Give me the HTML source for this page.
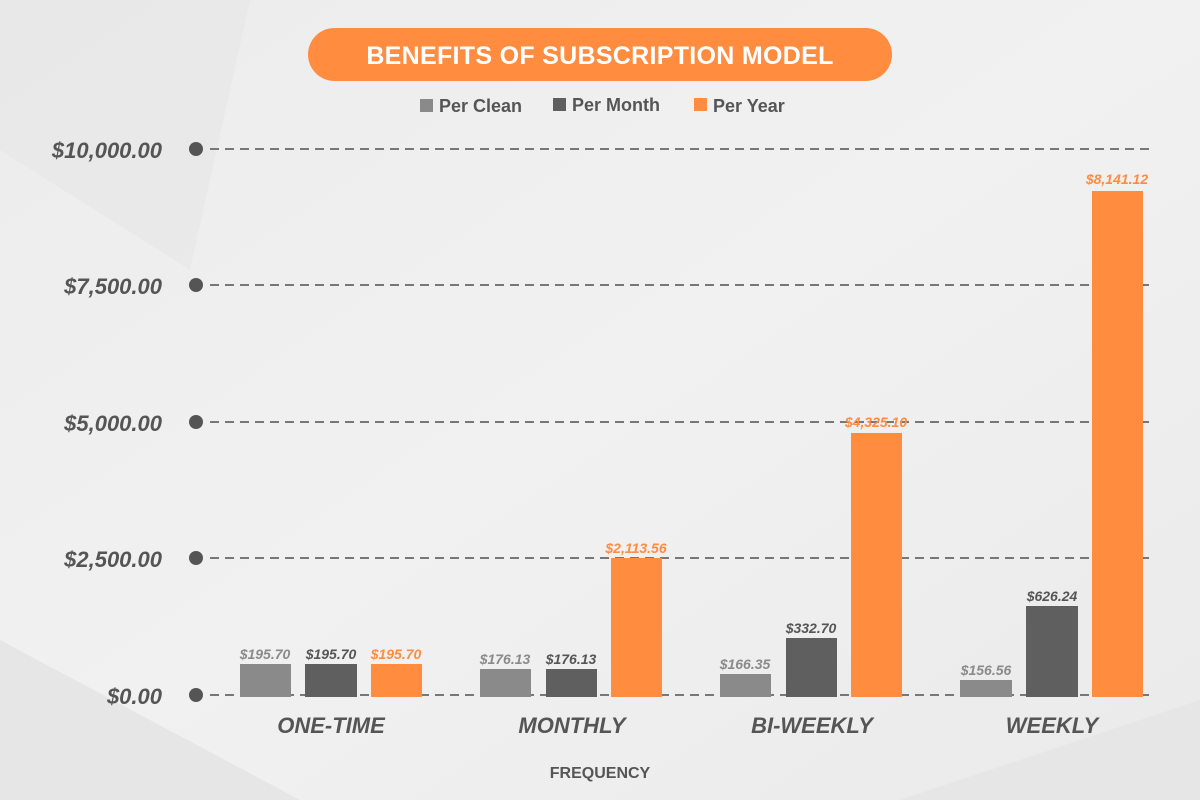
<!DOCTYPE html>
<html><head><style>
body{margin:0;}
svg{display:block;}
text{font-family:"Liberation Sans",sans-serif;font-weight:bold;}
</style></head><body>
<svg width="1200" height="800" xmlns="http://www.w3.org/2000/svg">
<defs><linearGradient id="bg" x1="0" y1="0" x2="1" y2="1">
<stop offset="0" stop-color="#ececec"/><stop offset="0.5" stop-color="#f1f1f1"/><stop offset="1" stop-color="#eaeaea"/></linearGradient></defs>
<rect width="1200" height="800" fill="url(#bg)"/>
<polygon points="0,0 250,0 190,270 0,150" fill="#e6e6e6" opacity="0.6"/>
<polygon points="0,640 300,800 0,800" fill="#e0e0e0" opacity="0.6"/>
<polygon points="900,800 1200,700 1200,800" fill="#e3e3e3" opacity="0.6"/>
<rect x="308" y="28" width="584" height="53" rx="26.5" fill="#ff8c3f"/>
<text x="600" y="64" text-anchor="middle" font-size="25" fill="#fff" letter-spacing="0.3">BENEFITS OF SUBSCRIPTION MODEL</text>
<rect x="420" y="99" width="13" height="13" fill="#8a8a8a"/>
<text x="439" y="112" font-size="18" fill="#555">Per Clean</text>
<rect x="553" y="98" width="13" height="13" fill="#5f5f5f"/>
<text x="572" y="111" font-size="18" fill="#555">Per Month</text>
<rect x="694" y="98" width="13" height="13" fill="#ff8c3f"/>
<text x="713" y="112" font-size="18" fill="#555">Per Year</text>
<g stroke="#777" stroke-width="2" stroke-dasharray="9,6">
<line x1="210" y1="149" x2="1150" y2="149"/>
<line x1="210" y1="285" x2="1150" y2="285"/>
<line x1="210" y1="422" x2="1150" y2="422"/>
<line x1="210" y1="558" x2="1150" y2="558"/>
<line x1="210" y1="695" x2="1150" y2="695"/>
</g>
<g fill="#555"><circle cx="196" cy="149" r="7"/><circle cx="196" cy="285" r="7"/><circle cx="196" cy="422" r="7"/><circle cx="196" cy="558" r="7"/><circle cx="196" cy="695" r="7"/></g>
<g font-size="22" font-style="italic" fill="#555" text-anchor="end">
<text x="162" y="158">$10,000.00</text>
<text x="162" y="294">$7,500.00</text>
<text x="162" y="431">$5,000.00</text>
<text x="162" y="567">$2,500.00</text>
<text x="162" y="704">$0.00</text>
</g>
<g>
<rect x="240" y="664" width="51" height="33" fill="#8a8a8a"/>
<rect x="305" y="664" width="52" height="33" fill="#5f5f5f"/>
<rect x="371" y="664" width="51" height="33" fill="#ff8c3f"/>
<rect x="480" y="669" width="51" height="28" fill="#8a8a8a"/>
<rect x="546" y="669" width="51" height="28" fill="#5f5f5f"/>
<rect x="611" y="558" width="51" height="139" fill="#ff8c3f"/>
<rect x="720" y="674" width="51" height="23" fill="#8a8a8a"/>
<rect x="786" y="638" width="51" height="59" fill="#5f5f5f"/>
<rect x="851" y="433" width="51" height="264" fill="#ff8c3f"/>
<rect x="960" y="680" width="52" height="17" fill="#8a8a8a"/>
<rect x="1026" y="606" width="52" height="91" fill="#5f5f5f"/>
<rect x="1092" y="191" width="51" height="506" fill="#ff8c3f"/>
</g>
<g font-size="14" font-style="italic" text-anchor="middle">
<text x="265" y="659" fill="#8a8a8a">$195.70</text>
<text x="331" y="659" fill="#555">$195.70</text>
<text x="396" y="659" fill="#ff8c3f">$195.70</text>
<text x="505" y="664" fill="#8a8a8a">$176.13</text>
<text x="571" y="664" fill="#555">$176.13</text>
<text x="636" y="553" fill="#ff8c3f">$2,113.56</text>
<text x="745" y="669" fill="#8a8a8a">$166.35</text>
<text x="811" y="633" fill="#555">$332.70</text>
<text x="876" y="427" fill="#ff8c3f">$4,325.10</text>
<text x="986" y="675" fill="#8a8a8a">$156.56</text>
<text x="1052" y="601" fill="#555">$626.24</text>
<text x="1117" y="184" fill="#ff8c3f">$8,141.12</text>
</g>
<g font-size="22" font-style="italic" fill="#555" text-anchor="middle">
<text x="331" y="733">ONE-TIME</text>
<text x="572" y="733">MONTHLY</text>
<text x="812" y="733">BI-WEEKLY</text>
<text x="1052" y="733">WEEKLY</text>
</g>
<text x="600" y="778" font-size="16" fill="#555" text-anchor="middle">FREQUENCY</text>
</svg>
</body></html>
